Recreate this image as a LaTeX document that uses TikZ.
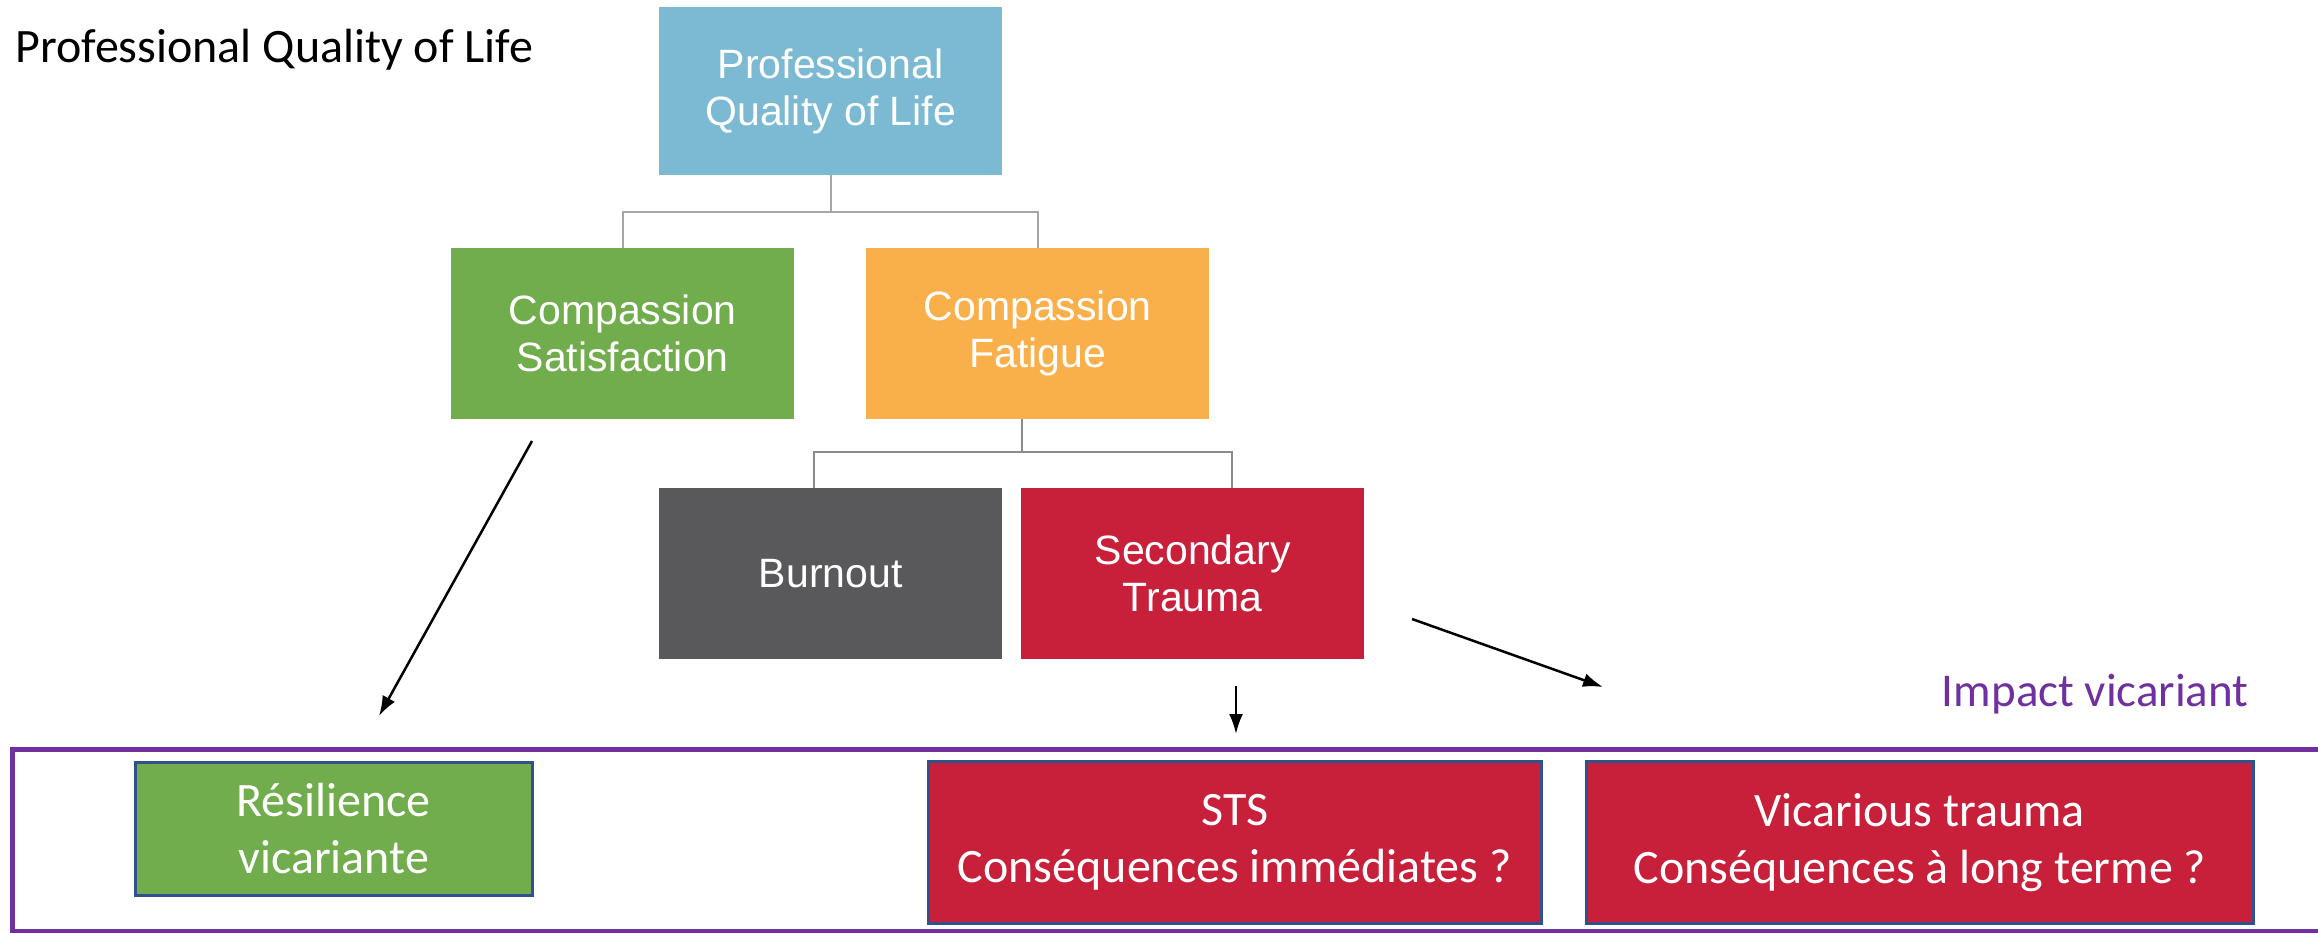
\documentclass[tikz,border=0pt]{standalone}
\usepackage{fontspec}
\setmainfont{Carlito}
\newfontfamily\arialf{Liberation Sans}
\usetikzlibrary{arrows.meta}
\definecolor{pqblue}{HTML}{7CBAD3}
\definecolor{csgreen}{HTML}{71AD4C}
\definecolor{cforange}{HTML}{F9B04B}
\definecolor{bogray}{HTML}{59595B}
\definecolor{stred}{HTML}{C8203A}
\definecolor{vpurple}{HTML}{7030A0}
\definecolor{bborder}{HTML}{2F528F}
\definecolor{lgray}{HTML}{A6A6A6}
\definecolor{mgray}{HTML}{8C8C8C}
\begin{document}
\begin{tikzpicture}[x=1pt,y=-1pt,
  topbox/.style={anchor=north west, inner sep=0pt, text=white, font=\arialf\fontsize{41}{47}\selectfont, align=center},
  botbox/.style={anchor=north west, inner sep=0pt, text=white, draw=bborder, line width=2.5pt, font=\fontsize{48}{57}\selectfont, align=center},
  tree/.style={draw=lgray, line width=2pt},
  arr/.style={-{Latex[length=20pt,width=14pt]}, line width=2.5pt, black}
]
\useasboundingbox (0,0) rectangle (2318,933);
\fill[white] (0,0) rectangle (2318,933);

\node[anchor=base west, font=\fontsize{48}{57}\selectfont] (title) at (12,63) {Professional Quality of Life};

\node[topbox, fill=pqblue, minimum width=343pt, minimum height=168pt] (pq) at (659,7) {Professional\\Quality of Life};
\node[topbox, fill=csgreen, minimum width=343pt, minimum height=171pt] (cs) at (451,248) {Compassion\\Satisfaction};
\node[topbox, fill=cforange, minimum width=343pt, minimum height=171pt] (cf) at (866,248) {Compassion\\Fatigue};
\node[topbox, fill=bogray, minimum width=343pt, minimum height=171pt] (bo) at (659,488) {Burnout};
\node[topbox, fill=stred, minimum width=343pt, minimum height=171pt] (st) at (1021,488) {Secondary\\Trauma};

\draw[tree] (pq.south) -- ++(0,37) -| (cs.north);
\draw[tree] (pq.south) -- ++(0,37) -| (cf.north);
\draw[tree, draw=mgray] ([xshift=-16pt]cf.south) -- ++(0,33) -| ([xshift=-17pt]bo.north);
\draw[tree, draw=mgray] ([xshift=-16pt]cf.south) -- ++(0,33) -| ([xshift=39pt]st.north);

\node[anchor=base east, text=vpurple, font=\fontsize{47}{56}\selectfont] (impact) at (2252,706) {Impact vicariant};

\node[draw=vpurple, line width=5pt, anchor=north west, minimum width=2330pt, minimum height=182pt, inner sep=0pt] (frame) at (10,747) {};

\node[botbox, fill=csgreen, minimum width=397pt, minimum height=133pt] (res) at (134,761) {Résilience\\vicariante};
\node[botbox, fill=stred, minimum width=613pt, minimum height=162pt] (sts) at (927,760) {STS\\Conséquences immédiates ?};
\node[botbox, fill=stred, minimum width=667pt, minimum height=162pt] (vt) at (1585,760) {Vicarious trauma\\Conséquences à long terme ?};

\coordinate (a1s) at (532,441);
\coordinate (a1e) at (379,716);
\coordinate (a2s) at (1236,686);
\coordinate (a2e) at (1236,734);
\coordinate (a3s) at (1412,619);
\coordinate (a3e) at (1603,687);
\draw[arr] (a1s) -- (a1e);
\draw[arr] (a2s) -- (a2e);
\draw[arr] (a3s) -- (a3e);
\end{tikzpicture}
\end{document}
